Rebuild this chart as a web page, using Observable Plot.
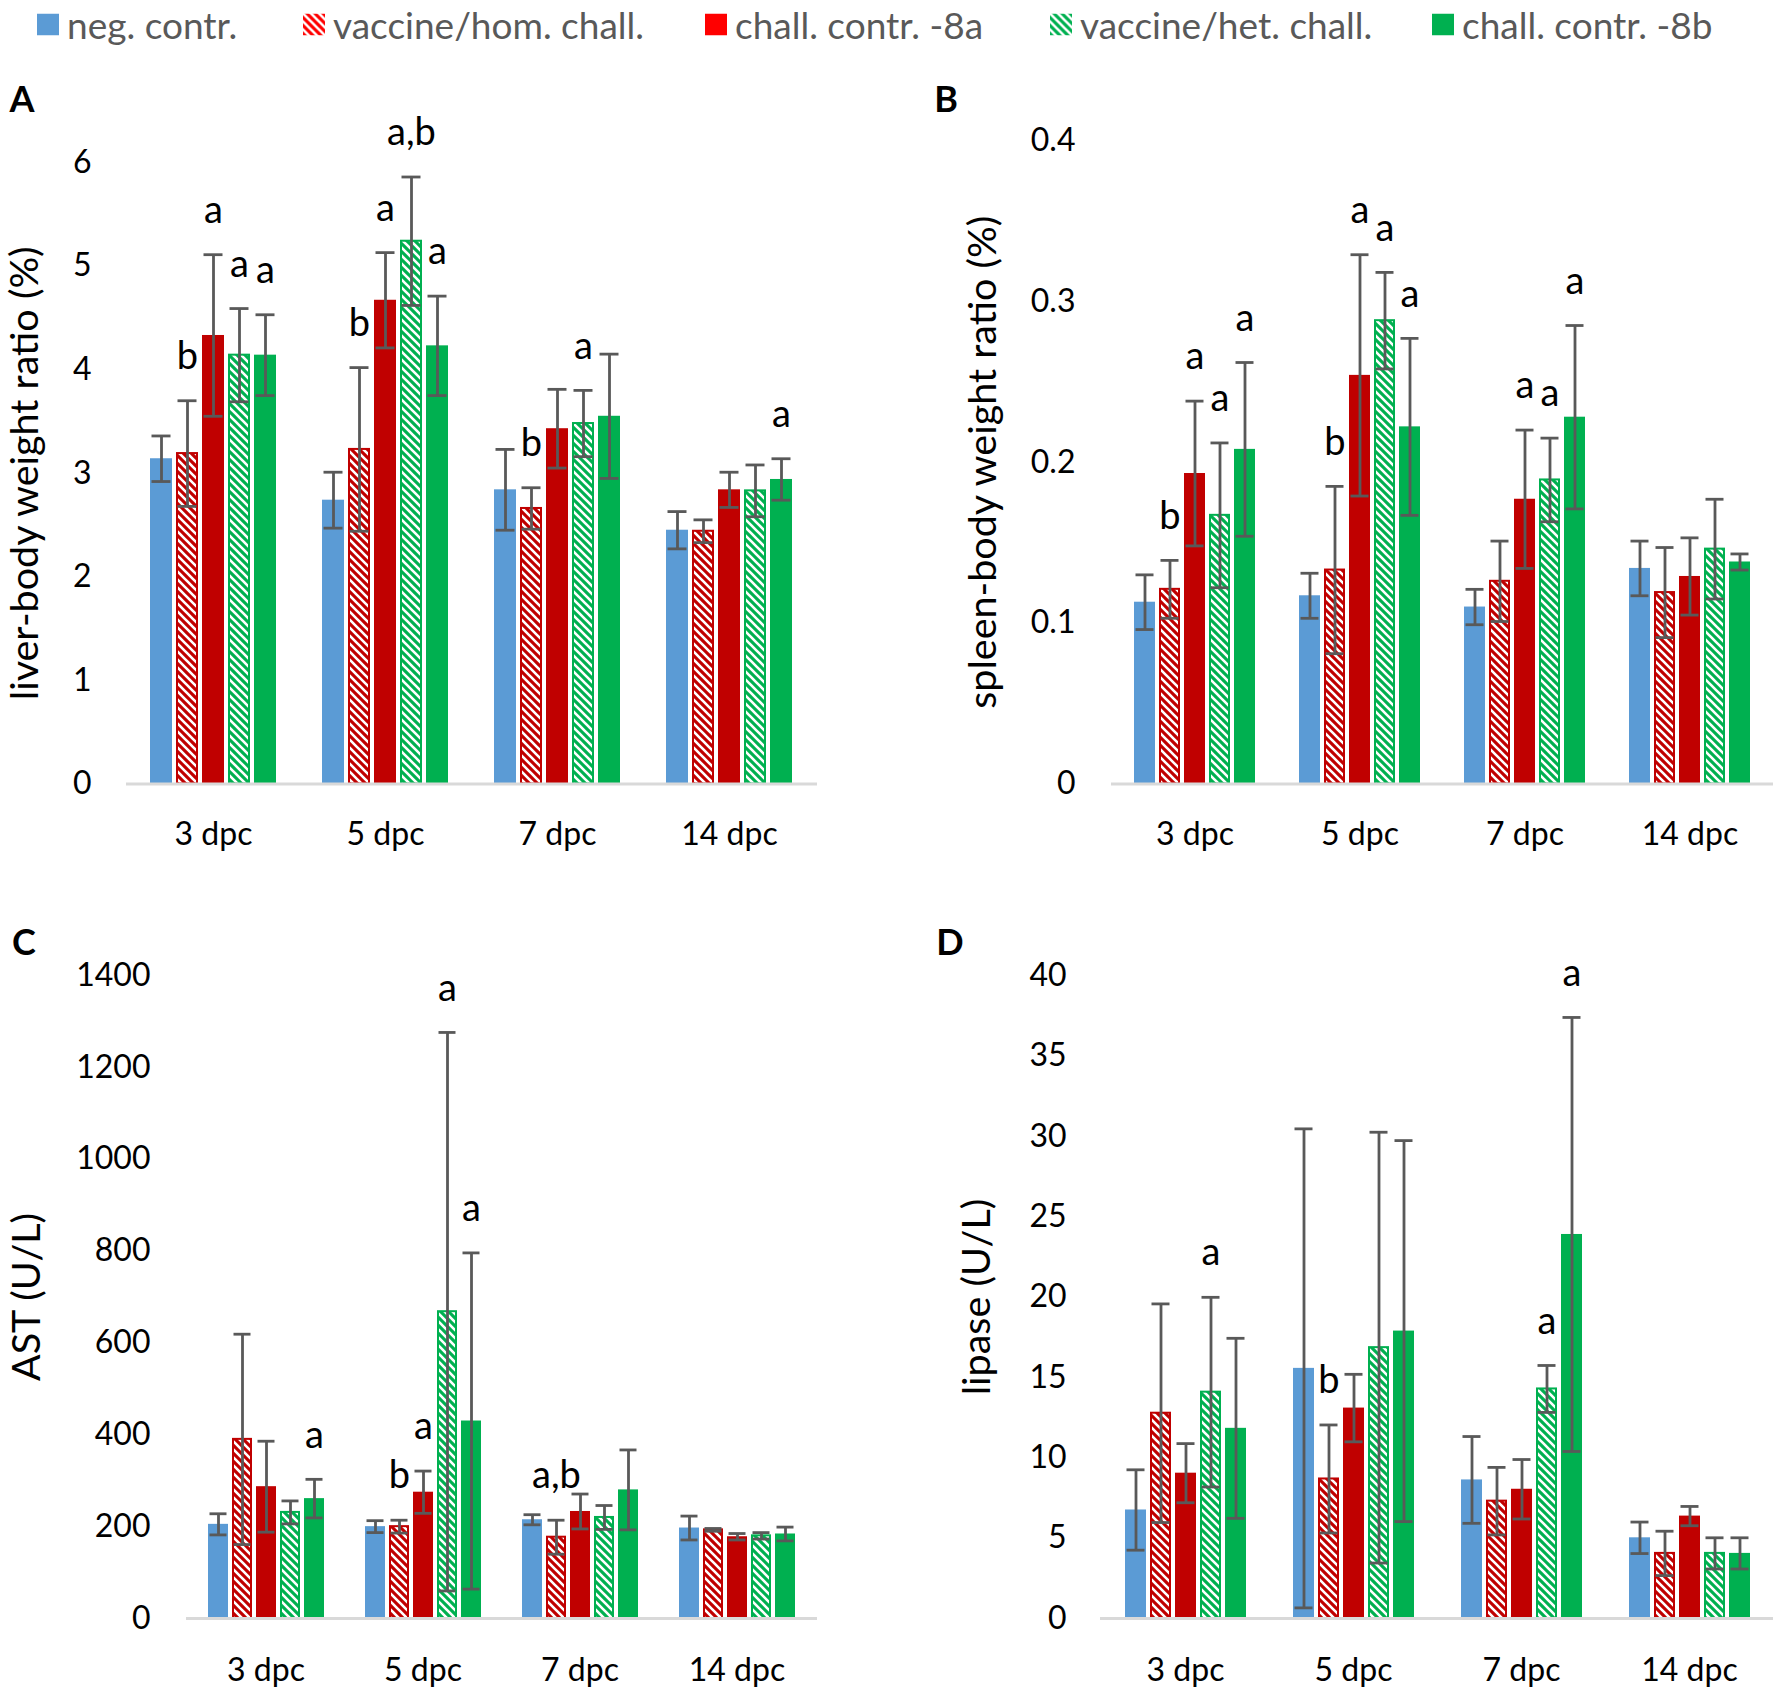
<!DOCTYPE html>
<html><head><meta charset="utf-8">
<script src="https://cdn.jsdelivr.net/npm/d3@7"></script>
<script src="https://cdn.jsdelivr.net/npm/@observablehq/plot@0.6"></script>
<style>
body{margin:0;background:#fff;font-family:Lato,sans-serif;}
#root{position:relative;width:1773px;height:1691px;overflow:hidden;background:#fff;}
.panel{position:absolute;}
.plabel{position:absolute;font-weight:bold;font-size:36px;font-family:Lato,sans-serif;transform:translate(-50%,-50%);color:#000;line-height:1;}
.leg{position:absolute;top:24px;transform:translateY(-50%);display:flex;align-items:center;font-size:37px;color:#595959;white-space:nowrap;line-height:1;}
.leg svg{margin-right:8px;display:block;}
</style></head>
<body>
<svg width="0" height="0" style="position:absolute">
<defs>
<pattern id="hatchRed" patternUnits="userSpaceOnUse" width="8" height="8">
<rect width="8" height="8" fill="#c00000"/>
<path d="M-2,-2 L10,10 M-2,6 L2,10 M6,-2 L10,2" stroke="#fff" stroke-width="2.6"/>
</pattern>
<pattern id="hatchRedL" patternUnits="userSpaceOnUse" width="8" height="8">
<rect width="8" height="8" fill="#ff0000"/>
<path d="M-2,-2 L10,10 M-2,6 L2,10 M6,-2 L10,2" stroke="#fff" stroke-width="2.6"/>
</pattern>
<pattern id="hatchGreen" patternUnits="userSpaceOnUse" width="8" height="8">
<rect width="8" height="8" fill="#00b050"/>
<path d="M-2,-2 L10,10 M-2,6 L2,10 M6,-2 L10,2" stroke="#fff" stroke-width="2.6"/>
</pattern>
</defs></svg>
<div id="root"></div>
<script>
// ---------- data ----------
const categories = ["3 dpc", "5 dpc", "7 dpc", "14 dpc"];
const seriesKeys = ["neg", "hom", "8a", "het", "8b"];
const seriesNames = ["neg. contr.", "vaccine/hom. chall.", "chall. contr. -8a", "vaccine/het. chall.", "chall. contr. -8b"];

// A: liver-body weight ratio (%) ; rows = series, cols = categories
const liverMean = [
  [3.14, 2.74, 2.84, 2.45],
  [3.19, 3.23, 2.66, 2.44],
  [4.33, 4.67, 3.43, 2.84],
  [4.14, 5.24, 3.48, 2.83],
  [4.14, 4.23, 3.55, 2.94]
];
const liverSD = [
  [0.22, 0.27, 0.39, 0.18],
  [0.51, 0.79, 0.20, 0.11],
  [0.78, 0.46, 0.38, 0.17],
  [0.45, 0.62, 0.32, 0.25],
  [0.39, 0.48, 0.60, 0.20]
];
const liverLetters = [
  ["3 dpc", "hom", "b"], ["3 dpc", "8a", "a"], ["3 dpc", "het", "a"], ["3 dpc", "8b", "a"],
  ["5 dpc", "hom", "b"], ["5 dpc", "8a", "a"], ["5 dpc", "het", "a,b"], ["5 dpc", "8b", "a"],
  ["7 dpc", "hom", "b"], ["7 dpc", "het", "a"],
  ["14 dpc", "8b", "a"]
];

// B: spleen-body weight ratio (%)
const spleenMean = [
  [0.113, 0.117, 0.110, 0.134],
  [0.121, 0.133, 0.126, 0.119],
  [0.193, 0.254, 0.177, 0.129],
  [0.167, 0.288, 0.189, 0.146],
  [0.208, 0.222, 0.228, 0.138]
];
const spleenSD = [
  [0.017, 0.014, 0.011, 0.017],
  [0.018, 0.052, 0.025, 0.028],
  [0.045, 0.075, 0.043, 0.024],
  [0.045, 0.030, 0.026, 0.031],
  [0.054, 0.055, 0.057, 0.005]
];
const spleenLetters = [
  ["3 dpc", "hom", "b"], ["3 dpc", "8a", "a"], ["3 dpc", "het", "a"], ["3 dpc", "8b", "a"],
  ["5 dpc", "hom", "b"], ["5 dpc", "8a", "a"], ["5 dpc", "het", "a"], ["5 dpc", "8b", "a"],
  ["7 dpc", "8a", "a"], ["7 dpc", "het", "a"], ["7 dpc", "8b", "a"]
];

// C: AST (U/L)
const astMean = [
  [205, 200, 215, 197],
  [390, 200, 177, 193],
  [287, 275, 233, 178],
  [231, 668, 220, 180],
  [261, 430, 280, 184]
];
const astSD = [
  [23, 13, 11, 26],
  [229, 14, 37, 3],
  [99, 46, 38, 7],
  [25, 608, 26, 7],
  [42, 366, 87, 15]
];
const astLetters = [
  ["3 dpc", "8b", "a"],
  ["5 dpc", "hom", "b"], ["5 dpc", "8a", "a"], ["5 dpc", "het", "a"], ["5 dpc", "8b", "a"],
  ["7 dpc", "hom", "a,b"]
];

// D: lipase (U/L)
const lipaseMean = [
  [6.75, 15.56, 8.62, 5.02],
  [12.77, 8.68, 7.30, 4.05],
  [9.04, 13.09, 8.04, 6.37],
  [14.08, 16.85, 14.28, 4.05],
  [11.83, 17.88, 23.89, 4.05]
];
const lipaseSD = [
  [2.5, 14.9, 2.7, 0.98],
  [6.8, 3.36, 2.1, 1.38],
  [1.84, 2.1, 1.85, 0.6],
  [5.9, 13.4, 1.46, 0.97],
  [5.6, 11.85, 13.5, 0.97]
];
const lipaseLetters = [
  ["3 dpc", "het", "a"],
  ["5 dpc", "hom", "b"],
  ["7 dpc", "het", "a"], ["7 dpc", "8b", "a"]
];

// ---------- styles ----------
const barFill = ["#5b9bd5", "url(#hatchRed)", "#c00000", "url(#hatchGreen)", "#00b050"];
const barStroke = ["none", "#c00000", "none", "#00b050", "none"];
const legendFill = ["#5b9bd5", "url(#hatchRedL)", "#ff0000", "url(#hatchGreen)", "#00b050"];
const errColor = "#595959";

const root = document.getElementById("root");

function panel(cfg) {
  const rows = [];
  seriesKeys.forEach((k, i) => categories.forEach((c, j) =>
    rows.push({cat: c, ser: k, v: cfg.mean[i][j], sd: cfg.sd[i][j]})));
  const lab = cfg.letters.map(([c, k, t]) => {
    const r = rows.find(r => r.cat === c && r.ser === k);
    return {...r, t};
  });
  const marks = [];
  seriesKeys.forEach((k, i) => {
    marks.push(Plot.barY(rows.filter(r => r.ser === k), {
      fx: "cat", x: "ser", y: "v",
      fill: barFill[i], stroke: barStroke[i], strokeWidth: 2,
      insetLeft: barStroke[i] === "none" ? 0 : 1, insetRight: barStroke[i] === "none" ? 0 : 1
    }));
  });
  marks.push(Plot.frame({anchor: "bottom", stroke: "#d9d9d9", strokeWidth: 3, facet: "super"}));
  marks.push(Plot.ruleX(rows, {fx: "cat", x: "ser", y1: d => d.v - d.sd, y2: d => d.v + d.sd, stroke: errColor, strokeWidth: 2.8}));
  marks.push(Plot.tickY(rows, {fx: "cat", x: "ser", y: d => d.v + d.sd, stroke: errColor, strokeWidth: 2.8, inset: 1.5}));
  marks.push(Plot.tickY(rows, {fx: "cat", x: "ser", y: d => d.v - d.sd, stroke: errColor, strokeWidth: 2.8, inset: 1.5}));
  marks.push(Plot.text(lab, {fx: "cat", x: "ser", y: d => d.v + d.sd, text: "t", dy: -44, fontSize: 38, fill: "#000", lineAnchor: "middle"}));
  marks.push(Plot.text([cfg.title], {text: d => d, frameAnchor: "left", rotate: -90, dx: cfg.titleDx,
    textAnchor: "middle", lineAnchor: "middle", fontSize: 39.5, fill: "#000", facet: "super"}));

  const chart = Plot.plot({
    width: cfg.width, height: cfg.height,
    marginLeft: cfg.mL, marginRight: cfg.mR, marginTop: cfg.mT, marginBottom: cfg.mB,
    style: {fontFamily: "Lato, sans-serif", fontSize: "32px", color: "#000", background: "transparent", overflow: "visible"},
    fx: {domain: categories, padding: 0, axis: "bottom", label: null, tickSize: 0, tickPadding: cfg.fxPad},
    x: {domain: seriesKeys, paddingInner: 0.17, paddingOuter: 0.85, axis: null},
    y: {domain: cfg.domain, ticks: cfg.ticks, tickSize: 0, tickPadding: cfg.tickPad, label: null, tickFormat: d3.format("~g")},
    marks
  });
  const wrap = document.createElement("div");
  wrap.className = "panel";
  wrap.style.left = cfg.left + "px";
  wrap.style.top = cfg.top + "px";
  wrap.appendChild(chart);
  root.appendChild(wrap);

  const pl = document.createElement("div");
  pl.className = "plabel";
  pl.textContent = cfg.letter;
  pl.style.left = cfg.lx + "px";
  pl.style.top = cfg.ly + "px";
  root.appendChild(pl);
}

panel({mean: liverMean, sd: liverSD, letters: liverLetters, domain: [0, 6], ticks: 6,
  title: "liver-body weight ratio (%)", left: 0, top: 100, width: 886, height: 790,
  mL: 125, mR: 70, mT: 62, mB: 106.5, tickPad: 36, fxPad: 38, titleDx: -102,
  letter: "A", lx: 22, ly: 98});
panel({mean: spleenMean, sd: spleenSD, letters: spleenLetters, domain: [0, 0.4], ticks: 4,
  title: "spleen-body weight ratio (%)", left: 886, top: 100, width: 887, height: 790,
  mL: 225, mR: 0, mT: 40, mB: 106.5, tickPad: 37, fxPad: 38, titleDx: -129,
  letter: "B", lx: 946, ly: 98});
panel({mean: astMean, sd: astSD, letters: astLetters, domain: [0, 1400], ticks: 7,
  title: "AST (U/L)", left: 0, top: 890, width: 886, height: 801,
  mL: 185, mR: 70, mT: 85, mB: 73, tickPad: 37, fxPad: 40, titleDx: -160,
  letter: "C", lx: 24, ly: 941});
panel({mean: lipaseMean, sd: lipaseSD, letters: lipaseLetters, domain: [0, 40], ticks: 8,
  title: "lipase (U/L)", left: 886, top: 890, width: 887, height: 801,
  mL: 215, mR: 0, mT: 85, mB: 73, tickPad: 35, fxPad: 40, titleDx: -124.5,
  letter: "D", lx: 950, ly: 941});

// ---------- legend ----------
const legendLeft = [37, 303, 705, 1050, 1432];
seriesNames.forEach((name, i) => {
  const item = document.createElement("div");
  item.className = "leg";
  item.style.left = legendLeft[i] + "px";
  const sw = document.createElementNS("http://www.w3.org/2000/svg", "svg");
  sw.setAttribute("width", 22); sw.setAttribute("height", 22);
  const r = document.createElementNS("http://www.w3.org/2000/svg", "rect");
  r.setAttribute("width", 22); r.setAttribute("height", 22);
  r.setAttribute("fill", legendFill[i]);
  sw.appendChild(r);
  item.appendChild(sw);
  const t = document.createElement("span");
  t.textContent = name;
  item.appendChild(t);
  root.appendChild(item);
});
</script>
</body></html>
